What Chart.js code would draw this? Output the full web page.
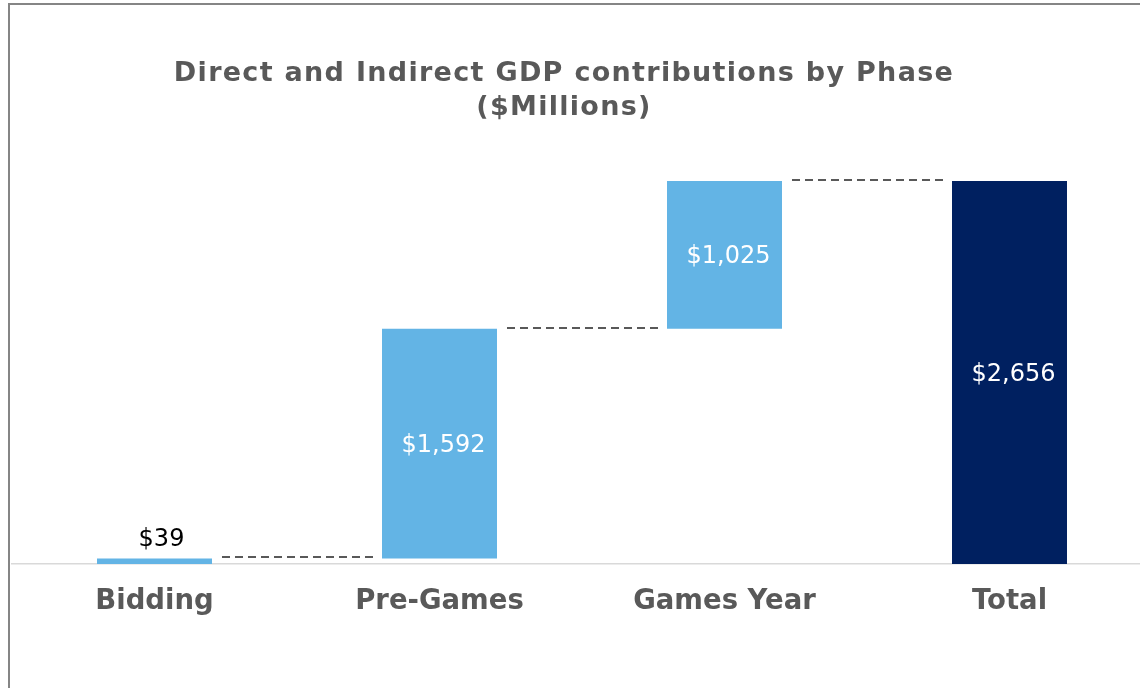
<!DOCTYPE html>
<html>
<head>
<meta charset="utf-8">
<script src="https://cdn.jsdelivr.net/npm/chart.js@4/dist/chart.umd.min.js"></script>
<style>
  html, body { margin: 0; padding: 0; background: #fff; overflow: hidden; }
  #wrap { position: relative; width: 1152px; height: 688px; }
  #frame {
    position: absolute; left: 8px; top: 3px; width: 1200px; height: 800px;
    border-left: 2px solid #858585; border-top: 2px solid #858585;
    pointer-events: none;
  }
</style>
</head>
<body>
<div id="wrap">
  <canvas id="gdpChart" width="1152" height="688"></canvas>
  <div id="frame"></div>
</div>
<script>
// Phases of the waterfall and each one's contribution ($M)
const phases = ['Bidding', 'Pre-Games', 'Games Year', 'Total'];
const contributions = [39, 1592, 1025];
const total = 2656;
const titleLines = ['Direct and Indirect GDP contributions by Phase', '($Millions)'];

const LIGHT_BLUE = '#63b4e5';
const NAVY = '#002060';
const GREY = '#595959';
const FONT = "'DejaVu Sans', Verdana, sans-serif";

// floating bars: each step starts where the previous one ended
const ranges = [];
let running = 0;
contributions.forEach(v => {
  ranges.push([running, running + v]);
  running += v;
});
ranges.push([0, total]);
const labelValues = contributions.concat([total]);

const fmt = v => '$' + v.toLocaleString('en-US');

// Title and the dashed step connectors
const waterfallExtras = {
  id: 'waterfallExtras',
  afterDatasetsDraw(chart) {
    const ctx = chart.ctx;
    const bars = chart.getDatasetMeta(0).data;
    const y = chart.scales.y;

    ctx.save();
    ctx.fillStyle = GREY;
    ctx.font = 'bold 27px ' + FONT;
    ctx.letterSpacing = '1.3px';
    ctx.textAlign = 'center';
    ctx.textBaseline = 'middle';
    titleLines.forEach((t, i) => ctx.fillText(t, 564, 74 + i * 34));
    ctx.letterSpacing = '0px';

    ctx.strokeStyle = GREY;
    ctx.lineWidth = 2;
    ctx.setLineDash([8, 5]);
    for (let i = 0; i < bars.length - 1; i++) {
      const a = bars[i], b = bars[i + 1];
      const yy = Math.round(y.getPixelForValue(ranges[i][1])) - 1;
      ctx.beginPath();
      ctx.moveTo(a.x + a.width / 2 + 10, yy);
      ctx.lineTo(b.x - b.width / 2 - 7, yy);
      ctx.stroke();
    }
    ctx.setLineDash([]);

    // value labels: above the thin first bar, inside the others
    ctx.font = '24px ' + FONT;
    bars.forEach((bar, i) => {
      const text = fmt(labelValues[i]);
      const h = Math.abs(bar.base - bar.y);
      if (h < 40) {
        ctx.fillStyle = '#000';
        ctx.fillText(text, bar.x + 7, bar.y - 19);
      } else {
        ctx.fillStyle = '#fff';
        ctx.fillText(text, bar.x + 4, (bar.y + bar.base) / 2 + 2);
      }
    });
    ctx.restore();
  }
};

new Chart(document.getElementById('gdpChart'), {
  type: 'bar',
  data: {
    labels: phases,
    datasets: [{
      data: ranges,
      backgroundColor: phases.map((p, i) => i === phases.length - 1 ? NAVY : LIGHT_BLUE),
      borderWidth: 0,
      barPercentage: 0.4035,
      categoryPercentage: 1
    }]
  },
  options: {
    responsive: false,
    animation: false,
    layout: { padding: { top: 181, left: 12, right: 0, bottom: 49 } },
    plugins: {
      legend: { display: false },
      tooltip: { enabled: false },
      title: { display: false }
    },
    scales: {
      x: {
        grid: { display: false, drawTicks: false },
        border: { display: true, color: '#d9d9d9', width: 1.5 },
        ticks: {
          color: GREY,
          font: { family: FONT, size: 27.5, weight: 'bold' },
          padding: 21,
          maxRotation: 0
        }
      },
      y: {
        display: false,
        min: 0,
        max: total
      }
    }
  },
  plugins: [waterfallExtras]
});
</script>
</body>
</html>
